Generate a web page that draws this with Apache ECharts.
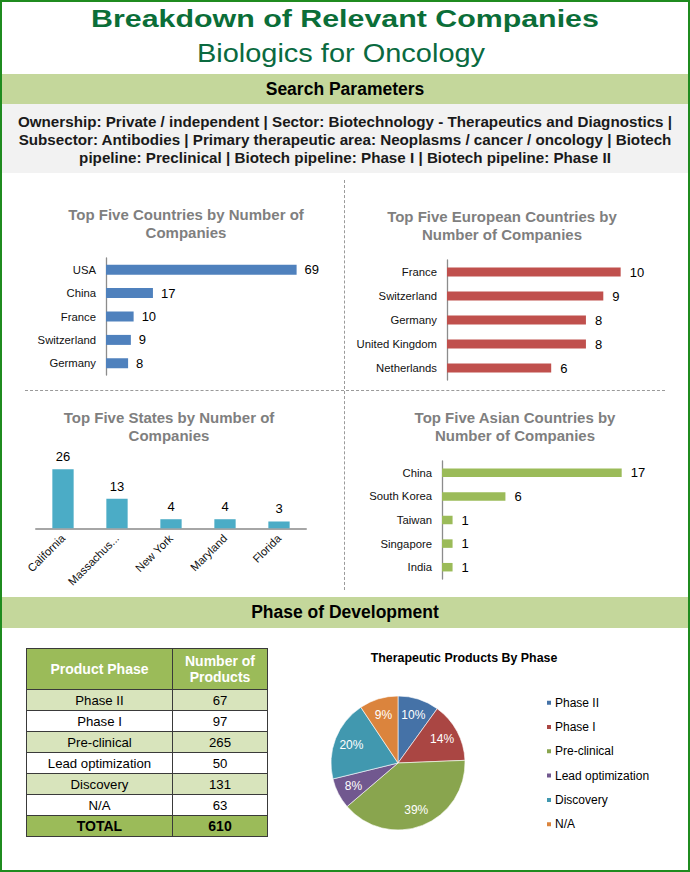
<!DOCTYPE html>
<html>
<head>
<meta charset="utf-8">
<script src="https://cdn.jsdelivr.net/npm/echarts/dist/echarts.min.js"></script>
<style>
  html, body { margin:0; padding:0; background:#fff; }
  body { font-family: "Liberation Sans", Arial, sans-serif; }
  #page { position:relative; width:690px; height:872px; overflow:hidden; background:#fff; }
  .abs { position:absolute; }
  #frame { left:0; top:0; width:690px; height:872px; box-sizing:border-box; border:2px solid #1f8b1f; z-index:5; pointer-events:none; }
  #t1 { left:0; width:690px; top:6.5px; height:24.5px; line-height:24.5px; text-align:center; font-weight:bold; font-size:24.5px; color:#0b6e38; white-space:nowrap; transform:scaleX(1.239); transform-origin:345px 50%; }
  #t2 { left:0; width:690px; top:39.9px; height:26.5px; line-height:26.5px; text-align:center; font-size:26.5px; color:#0a6a40; white-space:nowrap; transform:scaleX(1.093); transform-origin:341px 50%; }
  #t2 span { position:relative; left:-4px; }
  .band { left:2px; width:686px; background:#c4d79b; text-align:center; font-weight:bold; font-size:17.5px; color:#000; }
  #sp { top:74px; height:30px; line-height:30px; }
  #params { left:2px; width:686px; top:104px; height:69px; background:#f2f2f2; }
  #ptext { left:0; width:686px; top:9px; text-align:center; font-weight:bold; font-size:15.2px; line-height:18px; color:#1a1a1a; white-space:nowrap; }
  #pd { top:597px; height:31px; line-height:31px; }
  #vdiv { left:344px; top:180px; height:410px; width:0; border-left:1px dashed #9a9a9a; }
  #hdiv { left:25px; top:390px; width:640px; height:0; border-top:1px dashed #9a9a9a; }
  #chart { left:0; top:0; width:690px; height:872px; z-index:2; }
  #tbl { left:26px; top:648px; z-index:3; border-collapse:collapse; font-size:13.2px; color:#000; }
  #tbl td { border:1px solid #3a3a3a; text-align:center; padding:0; height:20px; }
  #tbl tr.hdr td { background:#9bbb59; color:#fff; font-weight:bold; font-size:14px; height:40px; line-height:16px; }
  #tbl tr.odd td { background:#d8e4bc; }
  #tbl tr.even td { background:#fff; }
  #tbl tr.tot td { background:#9bbb59; font-weight:bold; font-size:14px; }
</style>
</head>
<body>
<div id="page">
  <div id="t1" class="abs">Breakdown of Relevant Companies</div>
  <div id="t2" class="abs"><span>Biologics for Oncology</span></div>
  <div id="sp" class="abs band">Search Parameters</div>
  <div id="params" class="abs">
    <div id="ptext" class="abs">Ownership: Private / independent | Sector: Biotechnology - Therapeutics and Diagnostics |<br>Subsector: Antibodies | Primary therapeutic area: Neoplasms / cancer / oncology | Biotech<br>pipeline: Preclinical | Biotech pipeline: Phase I | Biotech pipeline: Phase II</div>
  </div>
  <div id="vdiv" class="abs"></div>
  <div id="hdiv" class="abs"></div>
  <div id="pd" class="abs band">Phase of Development</div>
  <div id="chart" class="abs"></div>
  <table id="tbl" class="abs"></table>
  <div id="frame" class="abs"></div>
</div>
<script>
// ---- data ----
const countries = ['USA', 'China', 'France', 'Switzerland', 'Germany'];
const countryCounts = [69, 17, 10, 9, 8];
const euroCountries = ['France', 'Switzerland', 'Germany', 'United Kingdom', 'Netherlands'];
const euroCounts = [10, 9, 8, 8, 6];
const states = ['California', 'Massachusetts', 'New York', 'Maryland', 'Florida'];
const stateCounts = [26, 13, 4, 4, 3];
const asianCountries = ['China', 'South Korea', 'Taiwan', 'Singapore', 'India'];
const asianCounts = [17, 6, 1, 1, 1];
const phases = ['Phase II', 'Phase I', 'Pre-clinical', 'Lead optimization', 'Discovery', 'N/A'];
const phaseCounts = [67, 97, 265, 50, 131, 63];
const phaseTotal = 610;

// ---- table ----
(function buildTable() {
  const t = document.getElementById('tbl');
  let html = '<tr class="hdr"><td style="width:145px">Product Phase</td><td style="width:94px">Number of<br>Products</td></tr>';
  phases.forEach((p, i) => {
    html += '<tr class="' + (i % 2 === 0 ? 'odd' : 'even') + '"><td>' + p + '</td><td>' + phaseCounts[i] + '</td></tr>';
  });
  html += '<tr class="tot"><td>TOTAL</td><td>' + phaseTotal + '</td></tr>';
  t.innerHTML = html;
})();

// ---- charts ----
const FONT = '"Liberation Sans", Arial, sans-serif';
const chart = echarts.init(document.getElementById('chart'), null, { renderer: 'svg' });

const grids = [], xAxes = [], yAxes = [], series = [];

function hbar(cats, vals, color, grid, max, barW, labelDist) {
  const gi = grids.length;
  grids.push(grid);
  xAxes.push({ type: 'value', gridIndex: gi, min: 0, max: max, show: false });
  yAxes.push({
    type: 'category', gridIndex: gi, data: cats, inverse: true,
    axisLine: { show: true, lineStyle: { color: '#8c8c8c', width: 1.3 } },
    axisTick: { show: false },
    axisLabel: { fontSize: 11.3, color: '#111', margin: 10, fontFamily: FONT }
  });
  series.push({
    type: 'bar', xAxisIndex: gi, yAxisIndex: gi, data: vals, barWidth: barW,
    itemStyle: { color: color }, silent: true,
    label: { show: true, position: 'right', distance: labelDist, fontSize: 13, color: '#000', fontFamily: FONT }
  });
}

hbar(countries, countryCounts, '#4f81bd', { left: 106, top: 258, width: 221, height: 117 }, 80, 10, 8);
hbar(euroCountries, euroCounts, '#c0504d', { left: 447, top: 260, width: 208.4, height: 120 }, 12, 9, 9);
hbar(asianCountries, asianCounts, '#9bbb59', { left: 442, top: 461, width: 211.4, height: 118 }, 20, 8.5, 9);

// vertical bar chart (states)
(function () {
  const gi = grids.length;
  grids.push({ left: 36, top: 460.2, width: 270, height: 68.1 });
  xAxes.push({
    type: 'category', gridIndex: gi, data: states,
    axisLine: { show: true, lineStyle: { color: '#a6a6a6', width: 2 } },
    axisTick: { show: false },
    axisLabel: { rotate: 45, fontSize: 11.3, color: '#111', margin: 8, fontFamily: FONT,
      width: 72, overflow: 'truncate', ellipsis: '...', interval: 0 }
  });
  yAxes.push({ type: 'value', gridIndex: gi, min: 0, max: 30, show: false });
  series.push({
    type: 'bar', xAxisIndex: gi, yAxisIndex: gi, data: stateCounts, barWidth: 21.3,
    itemStyle: { color: '#4bacc6' }, silent: true,
    label: { show: true, position: 'top', distance: 6, fontSize: 13, color: '#000', fontFamily: FONT }
  });
})();

const pieColors = ['#4572a7', '#aa4643', '#89a54e', '#71588f', '#4198af', '#db843d'];
const pieData = phases.map((p, i) => ({ name: p, value: phaseCounts[i] }));

series.push({
  type: 'pie', name: 'Therapeutic Products By Phase', center: [398, 763], radius: [0, 67],
  startAngle: 90, clockwise: true, data: pieData, color: pieColors, silent: true,
  itemStyle: { borderColor: '#fff', borderWidth: 0.6 },
  label: { show: false }, labelLine: { show: false }
});
// transparent ring only used to place the percentage labels at ~0.7 radius
series.push({
  type: 'pie', center: [398, 763], radius: [27, 67], startAngle: 90, clockwise: true,
  data: pieData, silent: true, percentPrecision: 0,
  itemStyle: { color: 'rgba(0,0,0,0)', borderWidth: 0 },
  emphasis: { disabled: true },
  label: { show: true, position: 'inside', formatter: '{d}%', fontSize: 12, color: '#fff', fontFamily: FONT },
  labelLine: { show: false }
});

const titleStyle = { fontSize: 15, fontWeight: 'bold', color: '#7f7f7f', lineHeight: 18, fontFamily: FONT };

chart.setOption({
  animation: false,
  textStyle: { fontFamily: FONT },
  title: [
    { text: 'Top Five Countries by Number of\nCompanies', left: 186, top: 205, textAlign: 'center', textStyle: titleStyle, padding: 0 },
    { text: 'Top Five European Countries by\nNumber of Companies', left: 502, top: 207, textAlign: 'center', textStyle: titleStyle, padding: 0 },
    { text: 'Top Five States by Number of\nCompanies', left: 169, top: 408, textAlign: 'center', textStyle: titleStyle, padding: 0 },
    { text: 'Top Five Asian Countries by\nNumber of Companies', left: 515, top: 408, textAlign: 'center', textStyle: titleStyle, padding: 0 },
    { text: 'Therapeutic Products By Phase', left: 464, top: 652, textAlign: 'center', padding: 0,
      textStyle: { fontSize: 12.4, fontWeight: 'bold', color: '#000', fontFamily: FONT } }
  ],
  legend: {
    orient: 'vertical', left: 545, top: 695.7, data: phases, icon: 'rect',
    itemWidth: 6, itemHeight: 6, itemGap: 10.3, selectedMode: false, padding: 0,
    textStyle: { fontSize: 12, color: '#000', lineHeight: 14, padding: [0, 0, 0, -2], fontFamily: FONT }
  },
  grid: grids,
  xAxis: xAxes,
  yAxis: yAxes,
  series: series
});
</script>
</body>
</html>
